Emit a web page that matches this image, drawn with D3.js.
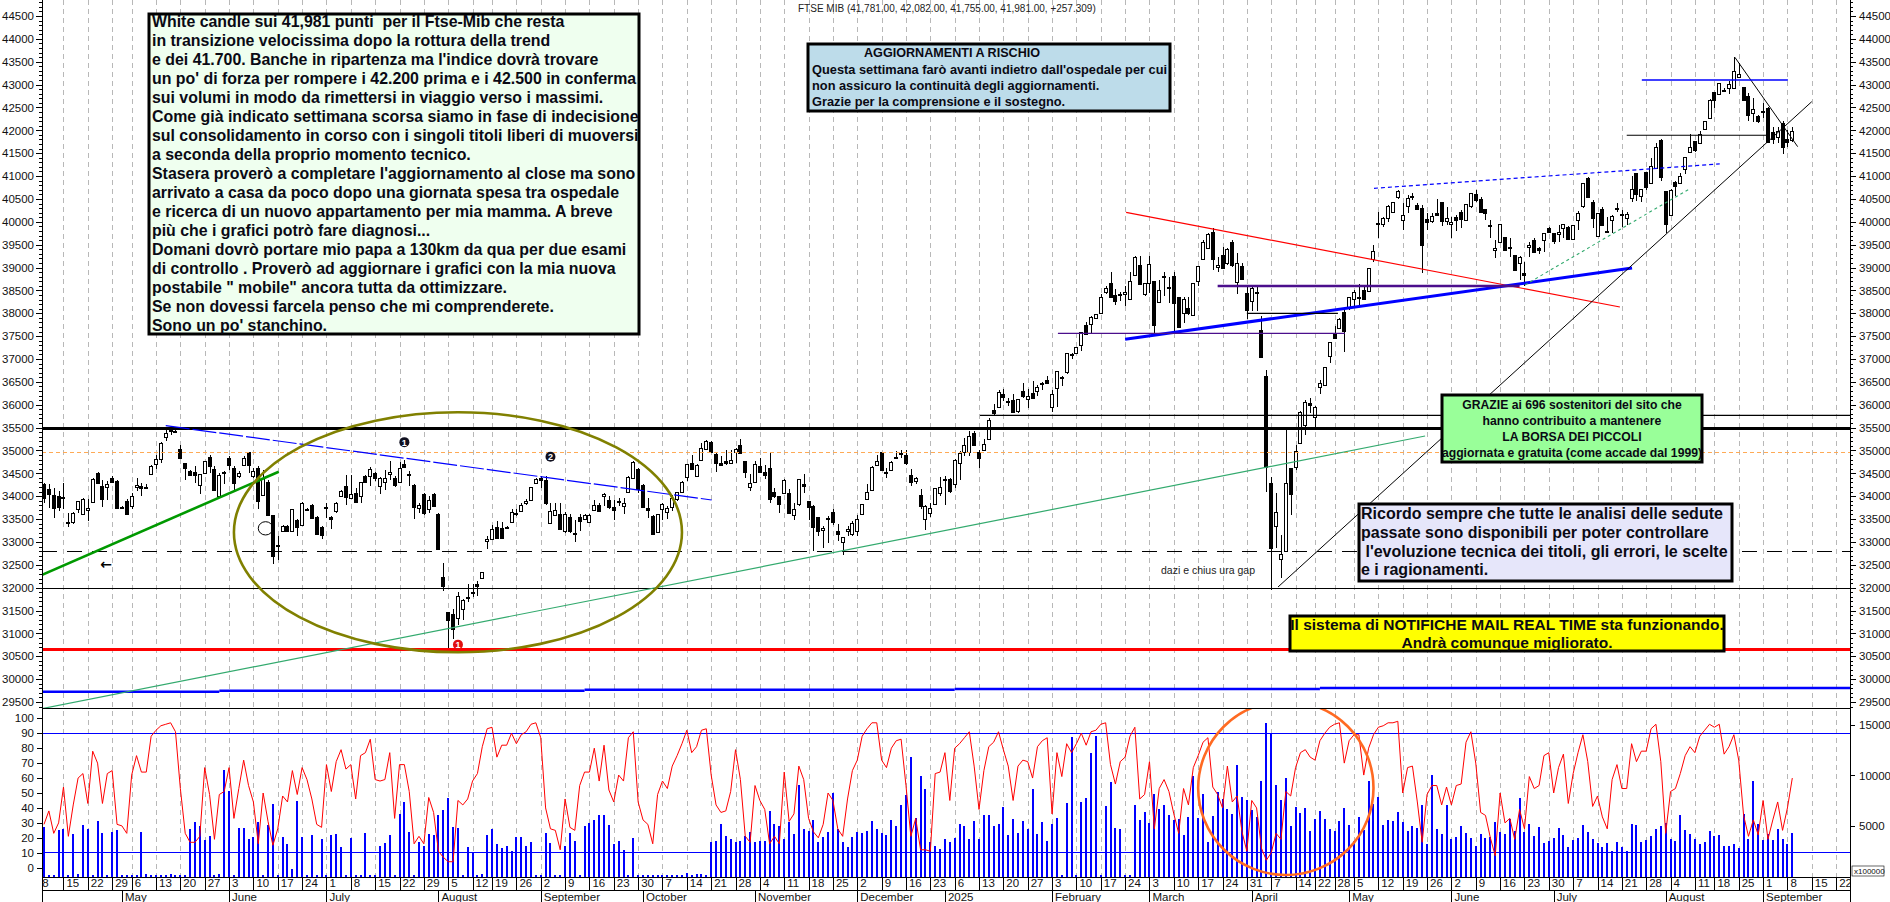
<!DOCTYPE html>
<html lang="en">

<head>
    <meta charset="UTF-8">
    <title>FTSE MIB</title>
    <script src="https://cdnjs.cloudflare.com/ajax/libs/d3/7.8.5/d3.min.js"></script>
    <style>
        html, body { margin: 0; padding: 0; background: white; overflow: hidden; }
        svg { display: block; font-family: "Liberation Sans", Arial, sans-serif; }
        .axis text { font-size: 11.5px; fill: #111; font-family: "Liberation Sans", Arial, sans-serif; }
        .axis path, .axis line { stroke: black; shape-rendering: crispEdges; }
        .boxText { font-weight: bold; fill: #0a0a14; }
    </style>
</head>

<body>
    <svg id="chart" width="1890" height="902"></svg>
    <script>
        /*------------------- candles ------------------------------------------*/
        const openVals = [
            34277,34160,34036,34015,33975,33420,33440,33723,33614,33694,
            33876,34510,34233,34197,34400,34342,33760,33905,33782,34204,
            34233,34197,34502,34713,34815,35290,35440,35420,35034,34728,
            34560,34539,34240,34510,34859,34597,34015,34531,34830,34611,
            34437,34692,34961,34437,34619,34036,34320,33578,32940,33236,
            33345,33236,33490,33367,33720,33818,33556,33337,33740,33556,
            33687,34000,34233,33964,34073,34000,34451,34437,34510,34218,
            34328,34488,34400,34306,34706,34470,34255,33738,34050,33723,
            34050,33621,32224,31460,31430,31344,31540,31780,31900,32085,
            32216,33003,33068,33323,33308,33330,33440,33630,33672,33840,
            33927,34290,34393,34364,33418,33592,33614,33236,33549,33205,
            33549,33490,33440,33701,33810,34015,33927,33765,33890,33780,
            34086,34390,34603,34253,33743,33575,33210,33722,33648,33765,
            33925,34085,34420,34727,34435,34785,35040,35187,34930,34727,
            34770,34730,34970,35128,34770,34200,34305,34670,34538,34625,
            34093,34000,34087,34071,33583,33823,34268,33889,33794,33546,
            33255,33520,33656,33240,32992,33233,33167,33233,33605,33940,
            34130,34677,34960,34530,34567,34865,34930,34910,34472,34325,
            34035,33517,33648,33830,34071,34362,34385,34268,34727,34960,
            34982,35383,34968,35020,35252,35893,35952,36236,36075,36112,
            35872,36302,36127,36258,36295,36470,36550,35952,36367,36600,
            36710,37110,37133,37300,37745,37775,37890,38008,38460,38670,
            38393,38430,38437,38327,38838,39049,38422,38655,38699,38255,
            38810,38580,38816,38349,37999,38109,37963,38699,39180,39421,
            39785,39011,39275,39093,39552,38692,39035,38437,38255,38460,
            37635,36630,34282,33356,32620,32788,34610,34647,35171,35572,
            36032,35740,36382,36425,37067,37563,37672,38022,38109,38327,
            38360,38510,38473,39202,39960,39946,40092,40208,40536,40041,
            40347,40560,40369,40296,40055,40026,40186,40427,40026,39946,
            40113,40208,40040,40332,40602,40500,40281,39940,39399,39552,
            39669,39440,39275,39115,38890,39443,39603,39422,39604,39874,
            39750,39750,39859,39896,39626,40027,40333,40953,40428,39677,
            40275,39800,40056,40296,40158,40078,40515,41062,40574,41084,
            40843,41179,41791,40676,40165,40865,40865,41149,41514,41769,
            41718,42024,42279,42833,42790,42880,42914,42936,43162,42943,
            42753,42367,42309,42410,42484,41973,41856,42155,41813,41781];
        const highVals = [
            34290,34277,34182,34110,34290,33636,33650,33905,33950,33942,
            34390,34520,34364,34330,34450,34350,33780,33930,34073,34400,
            34290,34270,34690,34910,35187,35456,35543,35440,35130,34728,
            34570,34655,34495,34780,34910,34655,34510,34560,34874,34655,
            34560,34888,34970,34620,34655,34582,34364,33590,33126,33380,
            33360,33730,33500,33870,33740,33840,33570,33345,33854,33563,
            33870,34130,34458,34458,34182,34310,34470,34633,34524,34410,
            34582,34764,34437,34743,34800,34546,34260,33854,34073,34000,
            34060,33636,32544,31460,31540,31900,31760,32070,32090,32145,
            32350,33126,33380,33454,33432,33345,33710,33710,33854,33940,
            34210,34400,34451,34451,33854,33854,33854,33650,33600,33490,
            33600,33620,33610,33927,33854,34073,34000,33925,33960,33960,
            34440,34760,34610,34260,33960,33590,33620,33855,33780,34035,
            34100,34330,34710,34890,34700,35165,35220,35200,34935,34870,
            35020,35020,35055,35250,34775,34495,34765,34837,34690,34960,
            34180,34000,34380,34160,33853,34385,34495,33895,33800,33550,
            33357,33560,33720,33400,33110,33357,33450,33583,33840,34275,
            34650,34890,34970,34620,34760,34980,35020,35020,34600,34420,
            34165,33800,33853,34190,34420,34450,34390,34810,34985,35275,
            35420,35435,35020,35240,35710,36025,36316,36345,36150,36243,
            36130,36477,36345,36520,36440,36490,36637,36330,36740,36620,
            37140,37133,37260,37590,37800,37950,37990,38420,38590,38910,
            38524,38470,38597,38910,39250,39253,38660,39253,38710,38728,
            38910,38800,38910,38360,38364,38364,38660,39035,39600,39763,
            39858,39238,39443,39421,39603,39312,39093,38619,38568,38568,
            37942,36761,34428,34063,33152,35485,34620,35120,35860,36105,
            36141,35970,36542,36830,37375,37723,37890,38110,38355,38510,
            38634,38619,38995,39494,40223,40113,40360,40430,40697,40405,
            40587,40624,40405,40369,40186,40186,40493,40441,40332,40113,
            40147,40259,40390,40640,40697,40551,40285,40040,39603,39955,
            39675,39640,39280,39245,39129,39567,39640,39440,39760,39896,
            39764,39932,39950,39900,39930,40238,40850,40975,40479,40195,
            40333,40114,40140,40406,40260,40224,41004,41062,40725,41090,
            41390,41733,41813,40680,40710,40894,41062,41415,41922,41775,
            41990,42215,42675,42840,43040,42936,43081,43600,43468,42950,
            42812,42702,42338,42593,42520,42068,42083,42206,42010,42082];
        const lowVals = [
            33855,33745,33527,33670,33710,33330,33400,33636,33600,33454,
            33860,34280,33760,33927,34290,33750,33710,33585,33710,34110,
            34015,34167,34490,34600,34728,35200,35347,35390,34815,34364,
            34440,34290,34058,34488,34510,34110,34000,34277,34582,34146,
            34400,34670,34510,34400,33730,34000,33563,32508,32600,33214,
            33220,33220,33126,33350,33680,33530,33165,33054,33527,33286,
            33636,33985,33818,33940,33854,33854,34320,34218,34328,34058,
            34146,34364,34204,34300,34620,34218,33512,33636,33585,33636,
            33770,32820,31925,30666,30885,31176,31285,31690,31800,31815,
            32200,32835,33050,33075,33090,33300,33435,33560,33665,33818,
            33920,34277,34182,33818,33410,33563,33272,33200,33200,33003,
            33236,33470,33430,33670,33650,33780,33710,33488,33780,33600,
            34080,34380,34070,33770,33525,33150,33200,33473,33503,33670,
            33900,34070,34340,34580,34420,34765,35025,34950,34520,34650,
            34690,34705,34730,34940,34400,34108,34290,34535,34380,33850,
            33960,33635,34070,33620,33488,33780,34070,33490,32795,33138,
            32868,32980,33380,33015,32720,33138,33123,33138,33590,33925,
            34120,34655,34560,34400,34555,34845,34835,34675,34230,34270,
            33720,33270,33545,33820,34000,33815,34070,34180,34360,34873,
            34873,35105,34620,34985,35225,35777,35937,36075,35967,35850,
            35820,36140,35923,36141,36185,36316,36460,35835,35945,36420,
            36680,36990,37120,37170,37550,37570,37880,38000,38430,38342,
            38182,38260,38167,38306,38825,38620,38378,38437,37562,38218,
            38378,38218,37562,37670,37780,37962,37950,38597,39165,39415,
            38947,38910,38962,39057,39020,38422,38728,37868,38058,38058,
            37016,34100,31949,32860,32205,32780,33590,34574,35150,35339,
            35813,35520,36236,36410,36906,37431,37660,37162,38072,38109,
            38145,38291,38460,39129,39640,39895,40004,40186,40493,39822,
            40186,40478,40259,38889,39822,39968,40150,39910,39931,39640,
            39800,39858,40030,40310,40442,40201,40040,39640,39202,39540,
            39370,39238,38940,38728,38597,39238,39312,39300,39349,39764,
            39516,39568,39640,39604,39610,39823,40296,40515,39859,39662,
            39932,39764,39750,40224,39896,39932,40442,40464,40442,40698,
            40829,41164,40902,39750,40151,40566,40821,41047,41500,41536,
            41700,42010,42270,42484,42780,42833,42790,42930,43140,42640,
            42214,42192,42155,42265,41718,41704,41718,41485,41645,41755];
        const closeVals = [
            33964,34050,33745,33782,33960,33430,33636,33890,33942,33745,
            34379,34291,33956,34270,34306,33760,33730,33620,34000,34255,
            34182,34175,34670,34815,35165,35383,35412,35405,34830,34626,
            34473,34480,34488,34764,34670,34146,34473,34510,34670,34277,
            34510,34844,34684,34553,33900,34400,33600,32675,32930,33338,
            33236,33710,33330,33854,33700,33541,33185,33163,33755,33505,
            33854,34110,34000,34050,33869,34306,34328,34597,34400,34400,
            34408,34531,34240,34619,34648,34480,33782,33803,33636,33913,
            33782,32857,32034,31285,31103,31825,31738,31800,31910,32034,
            32340,33054,33287,33090,33097,33310,33658,33640,33803,33890,
            34204,34386,34342,33854,33687,33709,33294,33614,33236,33190,
            33454,33585,33592,33810,33672,34050,33782,33692,33895,33850,
            34420,34750,34166,33780,33692,33182,33605,33830,33735,33962,
            34085,34310,34698,34596,34685,35055,35208,34960,34742,34690,
            34725,34785,35025,34945,34523,34290,34700,34545,34480,33955,
            33998,33823,34365,33635,33721,34377,34217,33765,33342,33233,
            33306,33525,33430,33167,33109,33284,33415,33503,33830,34093,
            34640,34765,34567,34535,34750,34855,34935,34727,34325,34392,
            33795,33795,33750,34180,34195,34385,34122,34800,34945,35120,
            35325,35115,34830,35143,35675,35835,36280,36163,36080,35857,
            36127,36200,36185,36156,36390,36480,36490,36229,36732,36610,
            37133,37100,37257,37585,37555,37920,37985,38358,38555,38364,
            38255,38420,38473,38714,39239,38634,38655,39071,37744,38517,
            38790,38570,38233,37693,38306,37999,38655,39027,39559,39727,
            39202,39055,38984,39399,39057,39108,38757,38058,38546,38440,
            37052,34647,32853,33662,32737,34282,34041,34997,35849,36068,
            35988,35959,36469,36819,37366,37453,37869,37599,38349,38473,
            38365,38306,38984,39370,39965,40077,40354,40427,40675,40157,
            40529,40545,40274,39494,39983,40135,40143,40004,40092,39990,
            40040,40062,40383,40624,40463,40223,40186,39925,39436,39946,
            39385,39445,38947,39238,38852,39487,39348,39370,39750,39786,
            39568,39786,39947,39626,39925,40187,40843,40530,40078,40187,
            39932,39785,40136,40300,40165,40165,40712,40603,40719,40749,
            41222,41631,40989,39961,40705,40770,41011,41412,41631,41572,
            41922,42207,42666,42651,43030,42890,43008,43307,43234,42651,
            42338,42462,42199,42415,41747,41827,41995,41631,41740,41981];

        /*------------------- volume and oscillator --------------------*/
        const volumeVals = [
            4885,160,160,4592,4690,160,4266,290,5080,4690,
            160,5470,4330,160,4397,4657,160,160,160,160,
            4397,290,160,160,200,200,290,160,160,160,
            4690,5440,5016,3680,4000,160,290,10553,8500,160,
            4788,4788,3778,3973,5374,160,5146,7198,160,3908,
            3290,781,7524,3908,160,4103,160,3778,160,4169,
            4267,2931,160,3811,160,160,4299,160,160,3029,
            3387,4169,160,6188,7328,4462,160,3420,3029,4234,
            4104,6058,6546,7784,4885,4788,160,2931,2443,160,
            260,4169,4723,3290,2834,3029,2606,3908,3908,3029,
            3420,160,160,4299,3387,160,160,3029,4299,3518,
            160,5048,5276,5569,6058,6123,5146,3290,3518,2638,
            160,3811,160,200,160,160,160,160,160,160,
            160,160,390,200,290,290,200,3420,3518,5179,
            4006,3713,3420,3583,4039,4397,3420,3583,3550,6449,
            5179,4983,3713,5374,4267,9054,4690,4560,5569,3452,
            3908,4430,8305,4690,3420,2931,3908,4397,4299,4495,
            5537,4690,4299,4169,5569,5048,7035,8110,11823,5765,
            9966,8664,3420,3029,2736,3778,3485,3843,5179,5048,
            3778,5472,3778,6058,6058,4983,5179,6840,4104,5732,
            4299,5472,4690,8664,4267,5374,3518,5179,5765,160,
            7230,13777,160,7426,7817,12214,13875,160,6937,9380,
            4788,4690,160,160,7035,5569,6384,5341,8175,6644,
            7100,6058,5569,5700,4104,5863,9966,5765,8175,3420,
            5960,8403,7719,6644,6156,11041,7850,7621,6546,5863,
            9445,15178,14135,9087,7621,9771,4983,6872,6286,6775,
            4495,5667,6449,5667,4690,4560,5472,6742,5146,3583,
            5928,4657,9445,7198,7914,5146,5569,5472,6351,5374,
            4495,4983,4820,7035,3290,10064,4690,4202,7035,3713,
            3908,4983,4299,3811,3094,4202,3811,3908,5374,4430,
            4267,5667,4495,7817,4397,5179,4006,4885,3322,3518,
            3811,4788,4104,2931,3615,3811,5081,4397,3713,3322,
            2931,3322,2540,3420,2931,2540,5179,5081,3420,3615,
            4006,4690,4983,5276,3778,3518,6058,4592,4202,3778,
            3224,3420,4495,4071,4104,3029,3029,3224,2899,6156,
            3778,9445,5211,3648,4202,3615,4755,3713,3224,4299];
        const oscVals = [
            29,38,23,30,54,21,42,60,63,43,
            78,70,43,63,65,29,28,23,62,75,
            64,64,88,92,95,96,97,91,53,23,
            17,17,21,67,49,19,49,51,67,33,
            53,72,55,44,16,50,31,15,26,48,
            44,65,49,67,59,46,29,27,69,51,
            71,79,66,69,46,75,77,86,59,58,
            59,77,33,69,69,51,16,21,16,47,
            37,11,7,4,4,45,42,46,58,63,
            81,93,94,74,82,82,90,83,89,91,
            96,97,87,40,26,25,12,46,27,25,
            55,64,64,80,58,82,52,44,62,58,
            87,91,44,32,29,16,49,58,53,68,
            75,83,92,77,81,92,93,62,42,37,
            38,51,79,59,21,17,55,45,39,16,
            21,16,64,31,36,68,59,33,24,20,
            29,50,45,26,21,46,65,72,88,93,
            97,97,72,67,80,85,86,55,21,33,
            12,12,11,63,64,77,45,80,83,87,
            91,68,39,65,81,84,91,79,68,45,
            68,72,71,60,81,85,87,36,77,61,
            83,77,83,90,82,91,92,96,97,69,
            56,71,74,88,94,46,49,71,26,53,
            59,51,36,23,53,42,67,75,84,87,
            54,49,40,68,44,48,24,11,45,40,
            13,5,10,23,19,51,48,67,77,79,
            74,72,85,90,94,96,97,70,85,89,
            89,62,80,89,94,95,97,97,98,50,
            67,68,44,17,49,55,55,42,54,42,
            55,56,84,91,70,37,35,20,8,50,
            30,33,19,39,26,61,53,55,75,77,
            50,67,76,43,63,77,89,71,41,48,
            34,26,59,69,53,53,83,71,78,78,
            93,96,71,23,51,53,63,75,81,77,
            88,92,96,94,96,76,81,89,72,35,
            21,32,22,45,19,32,44,25,40,60];

        /*------------------- axes labels --------------------*/
        const priceTicks = d3.range(29500, 44501, 500);
        const priceMinor = d3.range(29400, 44801, 100);
        const oscTicks = d3.range(0, 101, 10);
        const volumeTicks = [5000, 10000, 15000];
        const weekBars = [-1,4,9,14,18,23,28,33,38,43,48,53,58,63,68,73,78,83,88,92,97,102,107,112,117,122,127,132,137,142,147,152,157,162,167,172,177,182,187,192,197,202,207,212,217,222,227,232,237,242,247,252,257,261,265,269,274,279,284,289,294,299,304,309,314,319,324,329,334,339,343,348,353,358,363,368];
        const weekLabels = ["8","15","22","29","6","13","20","27","3","10","17","24","1","8","15","22","29","5","12","19","26","2","9","16","23","30","7","14","21","28","4","11","18","25","2","9","16","23","6","13","20","27","3","10","17","24","3","10","17","24","31","7","14","22","28","5","12","19","26","2","9","16","23","30","7","14","21","28","4","11","18","25","1","8","15","22"];
        const monthBars = [16,38,58,81,102,123,146,167,185,207,227,248,268,289,310,333,353];
        const monthLabels = ["May","June","July","August","September","October","November","December","2025","February","March","April","May","June","July","August","September"];

        /*------------------- drawn levels and trend lines [bar, price] --------------------*/
        const level35500 = 35500, levelOrange = 34960, levelDashed = 32793, level32000 = 32000, levelRed = 30660;
        const blueStepBars = [-1, 36, 111, 187, 262, 371];
        const blueStepVals = [29725, 29745, 29769, 29784, 29806];
        const trendGreenThick = [[-0.5, 32277], [48.2, 34536]];
        const trendGreenLong = [[-0.8, 29347], [283.6, 35317]];
        const trendBlueTop = [[25, 35542], [137.1, 33917]];
        const trendRed = [[222.2, 40208], [323.6, 38137]];
        const trendBlueThick = [[222, 37431], [326.1, 38990]];
        const levelPurpleThick = [[241, 38597], [303, 38597]];
        const levelPurpleThin = [[208.2, 37562], [267.1, 37562]];
        const levelBlackShort = [[247, 37999], [265.7, 37999]];
        const levelBlackLong = [[192.2, 35769], [371, 35769]];
        const trendBlackUp = [[253.4, 32015], [363, 42627]];
        const trendBlackDown = [[347.2, 43598], [360.1, 41643]];
        const levelBlack41900 = [[325, 41892], [354.4, 41892]];
        const levelBlue43100 = [[328.1, 43101], [358.1, 43101]];
        const trendBlueDash = [[273.1, 40733], [344.1, 41265]];
        const trendGreenDash = [[304.1, 38619], [338.1, 40733]];

        /*------------------- texts --------------------*/
        const titleText = "FTSE MIB (41,781.00, 42,082.00, 41,755.00, 41,981.00, +257.309)";
        const mainNote = ["White candle sui 41,981 punti  per il Ftse-Mib che resta",
            "in transizione velocissima dopo la rottura della trend",
            "e dei 41.700. Banche in ripartenza ma l'indice dovrà trovare",
            "un po' di forza per rompere i 42.200 prima e i 42.500 in conferma",
            "sui volumi in modo da rimettersi in viaggio verso i massimi.",
            "Come già indicato settimana scorsa siamo in fase di indecisione",
            "sul consolidamento in corso con i singoli titoli liberi di muoversi",
            "a seconda della proprio momento tecnico.",
            "Stasera proverò a completare l'aggiornamento al close ma sono",
            "arrivato a casa da poco dopo una giornata spesa tra ospedale",
            "e ricerca di un nuovo appartamento per mia mamma. A breve",
            "più che i grafici potrò fare diagnosi...",
            "Domani dovrò portare mio papa a 130km da qua per due esami",
            "di controllo . Proverò ad aggiornare i grafici con la mia nuova",
            "postabile \" mobile\" ancora tutta da ottimizzare.",
            "Se non dovessi farcela penso che mi comprenderete.",
            "Sono un po' stanchino."];
        const riskNote = ["Questa settimana farò avanti indietro dall'ospedale per cui",
            "non assicuro la continuità degli aggiornamenti.",
            "Grazie per la comprensione e il sostegno."];
        const thanksNote = ["GRAZIE ai 696 sostenitori del sito che",
            "hanno contribuito a mantenere",
            "LA BORSA DEI PICCOLI",
            "aggiornata e gratuita (come accade dal 1999)"];
        const memoNote = ["Ricordo sempre che tutte le analisi delle sedute",
            "passate sono disponibili per poter controllare",
            " l'evoluzione tecnica dei titoli, gli errori, le scelte",
            "e i ragionamenti."];
        const mailNote = ["Il sistema di NOTIFICHE MAIL REAL TIME sta funzionando.", "Andrà comunque migliorato."];

        /*------------------- scales --------------------*/
        const plotLeft = 42, plotRight = 1850, paneSplit = 708, paneBottom = 877, weekRow = 890, pageBottom = 902;
        const x = d3.scaleLinear().domain([0, 359]).range([44, 1792.3]);
        const yPrice = d3.scaleLinear().domain([29500, 44500]).range([702, 16]);
        const yOsc = d3.scaleLinear().domain([0, 100]).range([867.7, 718.3]);
        const yVol = d3.scaleLinear().domain([0, 15000]).range([paneBottom, 724.5]);

        const svg = d3.select("#chart");
        const defs = svg.append("defs");
        defs.append("clipPath").attr("id", "clipTop").append("rect")
            .attr("x", plotLeft).attr("y", 0).attr("width", plotRight - plotLeft).attr("height", paneSplit);
        defs.append("clipPath").attr("id", "clipLow").append("rect")
            .attr("x", plotLeft).attr("y", paneSplit).attr("width", plotRight - plotLeft).attr("height", paneBottom - paneSplit);
        defs.append("clipPath").attr("id", "clipRow").append("rect")
            .attr("x", plotLeft).attr("y", paneBottom).attr("width", plotRight - plotLeft).attr("height", pageBottom - paneBottom);

        /*------------------- grid --------------------*/
        svg.append("g").selectAll("line")
            .data(weekBars.filter(d => d >= 0))
            .join("line")
            .attr("x1", d => Math.round(x(d)) + .5).attr("x2", d => Math.round(x(d)) + .5)
            .attr("y1", 0).attr("y2", paneBottom)
            .attr("stroke", "#b8b8b8")
            .attr("stroke-dasharray", "5 4")
            .attr("shape-rendering", "crispEdges");

        /*------------------- lower pane --------------------*/
        const lowPane = svg.append("g").attr("clip-path", "url(#clipLow)");
        lowPane.append("g").selectAll("rect")
            .data(volumeVals)
            .join("rect")
            .attr("x", (d, i) => Math.round(x(i)) - 1)
            .attr("y", d => yVol(d))
            .attr("width", 2)
            .attr("height", d => paneBottom - yVol(d))
            .attr("fill", "#0000ff")
            .attr("shape-rendering", "crispEdges");
        [90, 10].forEach(v => {
            lowPane.append("line")
                .attr("x1", plotLeft).attr("x2", plotRight)
                .attr("y1", yOsc(v)).attr("y2", yOsc(v))
                .attr("stroke", "#0000ff").attr("stroke-width", 1).attr("shape-rendering", "crispEdges");
        });
        lowPane.append("path")
            .attr("d", d3.line().x((d, i) => x(i)).y(d => yOsc(d))(oscVals))
            .attr("fill", "none").attr("stroke", "#ff0000").attr("stroke-width", 1);
        lowPane.append("ellipse")
            .attr("cx", (x(237) + x(273)) / 2).attr("cy", (yOsc(111.6) + yOsc(-4.9)) / 2)
            .attr("rx", (x(273) - x(237)) / 2).attr("ry", (yOsc(-4.9) - yOsc(111.6)) / 2)
            .attr("fill", "none").attr("stroke", "#ff6a22").attr("stroke-width", 2.6);

        /*------------------- candles --------------------*/
        const topPane = svg.append("g").attr("clip-path", "url(#clipTop)");
        const candles = topPane.append("g").attr("shape-rendering", "crispEdges");
        candles.selectAll("line")
            .data(d3.range(openVals.length))
            .join("line")
            .attr("x1", i => Math.round(x(i)) + .5).attr("x2", i => Math.round(x(i)) + .5)
            .attr("y1", i => yPrice(highVals[i])).attr("y2", i => yPrice(lowVals[i]))
            .attr("stroke", "black");
        candles.selectAll("rect")
            .data(d3.range(openVals.length))
            .join("rect")
            .attr("x", i => Math.round(x(i)) - 1.5)
            .attr("width", 3)
            .attr("y", i => Math.round(yPrice(Math.max(openVals[i], closeVals[i]))) + .5)
            .attr("height", i => Math.max(1, Math.round(Math.abs(yPrice(openVals[i]) - yPrice(closeVals[i])))))
            .attr("fill", i => closeVals[i] >= openVals[i] ? "white" : "black")
            .attr("stroke", "black").attr("stroke-width", 1);

        /*------------------- levels and trend lines --------------------*/
        function hLevel(v, color, width, dash) {
            topPane.append("line")
                .attr("x1", plotLeft).attr("x2", plotRight)
                .attr("y1", Math.round(yPrice(v))).attr("y2", Math.round(yPrice(v)))
                .attr("stroke", color).attr("stroke-width", width)
                .attr("stroke-dasharray", dash || null)
                .attr("shape-rendering", "crispEdges");
        }
        function segment(pts, color, width, dash) {
            topPane.append("line")
                .attr("x1", x(pts[0][0])).attr("y1", yPrice(pts[0][1]))
                .attr("x2", x(pts[1][0])).attr("y2", yPrice(pts[1][1]))
                .attr("stroke", color).attr("stroke-width", width)
                .attr("stroke-dasharray", dash || null);
        }
        hLevel(levelOrange, "#ffaa55", 1, "4 3");
        hLevel(level35500, "black", 3);
        hLevel(levelDashed, "black", 1, "15 10");
        hLevel(level32000, "black", 1);
        hLevel(levelRed, "#ff0000", 3);
        blueStepVals.forEach((v, i) => {
            topPane.append("line")
                .attr("x1", x(blueStepBars[i])).attr("x2", x(blueStepBars[i + 1]))
                .attr("y1", yPrice(v)).attr("y2", yPrice(v))
                .attr("stroke", "#0000ff").attr("stroke-width", 2.6);
        });
        segment(trendGreenLong, "#33aa6e", 1.2);
        segment(trendGreenThick, "#009900", 2.6);
        segment(trendBlueTop, "#0000ff", 1.2, "24 3");
        segment(trendRed, "#ff0000", 1.2);
        segment(trendBlueThick, "#0000ff", 3);
        segment(levelPurpleThick, "#4b0f8c", 2.4);
        segment(levelPurpleThin, "#4b0f8c", 1.2);
        segment(levelBlackShort, "black", 1.2);
        segment(levelBlackLong, "black", 1.2);
        segment(trendBlackUp, "black", 1);
        segment(trendBlackDown, "black", 1);
        segment(levelBlack41900, "black", 1.2);
        segment(levelBlue43100, "#0000ff", 1.4);
        segment(trendBlueDash, "#0000ff", 1.2, "4 3");
        segment(trendGreenDash, "#33aa6e", 1.1, "3 3");

        // big olive ellipse on the summer range and the small one on June
        topPane.append("ellipse")
            .attr("cx", (x(39) + x(131)) / 2).attr("cy", (yPrice(35835) + yPrice(30587)) / 2)
            .attr("rx", (x(131) - x(39)) / 2).attr("ry", (yPrice(30587) - yPrice(35835)) / 2)
            .attr("fill", "none").attr("stroke", "#808000").attr("stroke-width", 2.6);
        topPane.append("ellipse")
            .attr("cx", (x(44) + x(47)) / 2).attr("cy", (yPrice(33443) + yPrice(33152)) / 2)
            .attr("rx", (x(47) - x(44)) / 2).attr("ry", (yPrice(33152) - yPrice(33443)) / 2)
            .attr("fill", "none").attr("stroke", "black").attr("stroke-width", 1);

        // numbered markers
        function marker(bar, price, label, color) {
            topPane.append("circle").attr("cx", x(bar)).attr("cy", yPrice(price)).attr("r", 5).attr("fill", color);
            topPane.append("text").attr("x", x(bar)).attr("y", yPrice(price) + 3.5)
                .attr("text-anchor", "middle").attr("font-size", 9).attr("font-weight", "bold")
                .attr("fill", "white").text(label);
        }
        marker(74, 35182, "1", "#101020");
        marker(104, 34861, "2", "#101020");
        marker(85, 30754, "1", "#e01010");
        topPane.append("text").attr("x", 106).attr("y", 569).attr("text-anchor", "middle")
            .attr("font-family", "DejaVu Sans").attr("font-size", 14).attr("font-weight", "bold")
            .attr("fill", "black").text("←");
        topPane.append("text").attr("x", 1161).attr("y", 574).attr("font-size", 10.5)
            .attr("fill", "#222").text("dazi e chius ura gap");

        /*------------------- frame and axes --------------------*/
        [paneSplit, paneBottom, weekRow].forEach(y => {
            svg.append("line").attr("x1", plotLeft).attr("x2", plotRight)
                .attr("y1", y + .5).attr("y2", y + .5)
                .attr("stroke", "black").attr("stroke-width", y === paneSplit ? 1.3 : 1.5)
                .attr("shape-rendering", "crispEdges");
        });

        const axisPriceL = svg.append("g").attr("class", "axis").attr("transform", `translate(${plotLeft},0)`)
            .call(d3.axisLeft(yPrice).tickValues(priceTicks).tickSize(6).tickPadding(2).tickFormat(d3.format("d")));
        const axisPriceR = svg.append("g").attr("class", "axis").attr("transform", `translate(${plotRight},0)`)
            .call(d3.axisRight(yPrice).tickValues(priceTicks).tickSize(6).tickPadding(3).tickFormat(d3.format("d")));
        const axisMinorL = svg.append("g").attr("class", "axis").attr("transform", `translate(${plotLeft},0)`)
            .call(d3.axisLeft(yPrice).tickValues(priceMinor).tickSize(3).tickFormat(""));
        const axisMinorR = svg.append("g").attr("class", "axis").attr("transform", `translate(${plotRight},0)`)
            .call(d3.axisRight(yPrice).tickValues(priceMinor).tickSize(3).tickFormat(""));
        const axisOsc = svg.append("g").attr("class", "axis").attr("transform", `translate(${plotLeft},0)`)
            .call(d3.axisLeft(yOsc).tickValues(oscTicks).tickSize(5).tickPadding(3));
        const axisVol = svg.append("g").attr("class", "axis").attr("transform", `translate(${plotRight},0)`)
            .call(d3.axisRight(yVol).tickValues(volumeTicks).tickSize(5).tickPadding(4).tickFormat(d3.format("d")));
        [axisPriceL, axisPriceR, axisMinorL, axisMinorR, axisOsc, axisVol].forEach(a => a.select(".domain").remove());
        [plotLeft, plotRight].forEach(px => {
            svg.append("line").attr("x1", px + .5).attr("x2", px + .5)
                .attr("y1", 0).attr("y2", pageBottom)
                .attr("stroke", "black").attr("stroke-width", 1.5).attr("shape-rendering", "crispEdges");
        });

        // date rows under the lower pane
        const rows = svg.append("g").attr("clip-path", "url(#clipRow)").attr("font-size", 11.5).attr("fill", "#111");
        weekBars.forEach((b, i) => {
            rows.append("line").attr("x1", Math.round(x(b)) + .5).attr("x2", Math.round(x(b)) + .5)
                .attr("y1", paneBottom).attr("y2", weekRow)
                .attr("stroke", "black").attr("shape-rendering", "crispEdges");
            rows.append("text").attr("x", x(b) + 3).attr("y", weekRow - 3).text(weekLabels[i]);
        });
        monthBars.forEach((b, i) => {
            rows.append("line").attr("x1", Math.round(x(b)) + .5).attr("x2", Math.round(x(b)) + .5)
                .attr("y1", weekRow).attr("y2", pageBottom)
                .attr("stroke", "black").attr("shape-rendering", "crispEdges");
            rows.append("text").attr("x", x(b) + 3).attr("y", pageBottom - 1.5).text(monthLabels[i]);
        });
        svg.append("rect").attr("x", 1852).attr("y", 866).attr("width", 32).attr("height", 10)
            .attr("fill", "white").attr("stroke", "black").attr("stroke-width", .6);
        svg.append("text").attr("x", 1854).attr("y", 874).attr("font-size", 8).attr("fill", "#111").text("x100000");

        svg.append("text").attr("x", 798).attr("y", 12).attr("font-size", 10).attr("fill", "#222").text(titleText);

        /*------------------- note boxes --------------------*/
        function noteBox(left, top, right, bottom, fill, lines, opts) {
            svg.append("rect").attr("x", left).attr("y", top)
                .attr("width", right - left).attr("height", bottom - top)
                .attr("fill", fill).attr("stroke", "black").attr("stroke-width", 3);
            const anchor = opts.center ? "middle" : "start";
            svg.append("g").selectAll("text")
                .data(lines)
                .join("text")
                .attr("class", "boxText")
                .attr("xml:space", "preserve")
                .style("white-space", "pre")
                .attr("x", opts.center ? (left + right) / 2 : left + opts.pad)
                .attr("y", (d, i) => opts.first + i * opts.step)
                .attr("text-anchor", anchor)
                .attr("font-size", opts.size)
                .text(d => d);
        }
        noteBox(149, 14, 639, 334, "#efffef", mainNote, { pad: 3, first: 27, step: 19, size: 15.9 });
        noteBox(808, 44, 1170, 111, "#bddcea", riskNote, { pad: 4, first: 74, step: 16, size: 12.8 });
        svg.append("text").attr("class", "boxText").attr("x", 864).attr("y", 57)
            .attr("font-size", 12.6).text("AGGIORNAMENTI A RISCHIO");
        noteBox(1442, 395, 1702, 462, "#99ff99", thanksNote, { center: true, first: 408.5, step: 16.2, size: 12.2 });
        noteBox(1359, 504, 1732, 581, "#e6e6fa", memoNote, { pad: 2, first: 519, step: 18.8, size: 16 });
        noteBox(1290, 616, 1724, 651, "#ffff00", mailNote, { center: true, first: 629.5, step: 18, size: 15.5 });
    </script>
</body>

</html>
